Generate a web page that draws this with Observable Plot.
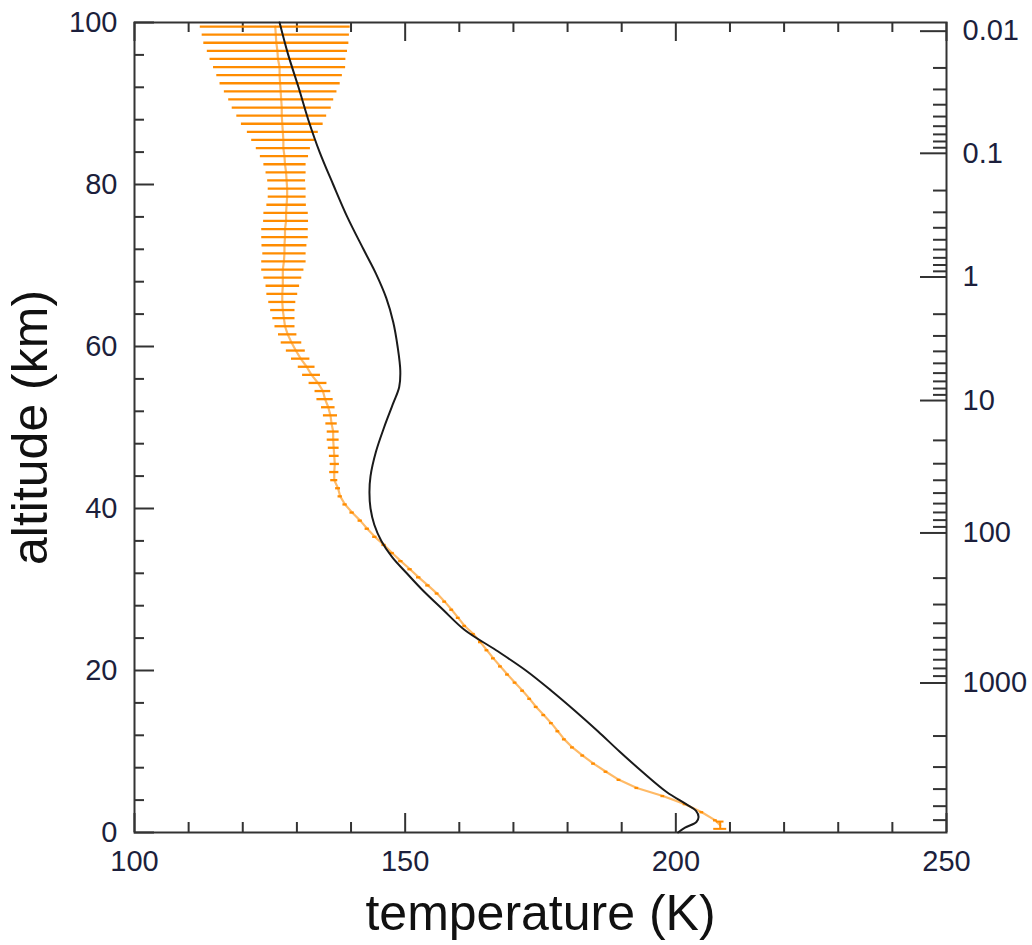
<!DOCTYPE html>
<html>
<head>
<meta charset="utf-8">
<script src="https://cdn.jsdelivr.net/npm/d3@7"></script>
<script src="https://cdn.jsdelivr.net/npm/@observablehq/plot@0.6"></script>
<style>
  body { margin: 0; background: #fff; }
  #chart svg { display: block; }
</style>
</head>
<body>
<div id="chart"></div>
<script>
// Model temperature profile (black curve): altitude (km) and temperature (K)
const modelAlt = [100, 96, 92, 88, 84, 80, 76, 72, 69, 66, 63, 60, 57, 55, 53, 50, 47, 44, 42, 40,
  38, 36, 34, 32, 30, 27.5, 25, 22.5, 20, 17.5, 15, 12.5, 10, 7.5, 5, 3.5, 2.7, 1.9, 1.3, 0.6, 0];
const modelT = [126.8, 128.4, 130.3, 132.1, 134.2, 136.7, 139.3, 142.3, 144.6, 146.5, 147.8, 148.6, 149.1, 148.9, 147.8, 146.1, 144.6, 143.6, 143.4, 143.6,
  144.3, 145.6, 147.6, 150.3, 153.1, 157.0, 161.0, 166.8, 172.3, 177.0, 181.4, 185.6, 189.6, 193.8, 198.3, 201.9, 203.7, 204.2, 203.8, 201.7, 200.4];

// Retrieved profile (orange): one level per km, mean temperature and error half-width
const obsAlt = d3.range(99.5, 1, -1);
const obsT = [
  126.0, 126.1, 126.2, 126.4, 126.5, 126.8, 126.8, 126.9, 127.0, 127.1,
  127.2, 127.2, 127.3, 127.4, 127.5, 127.5, 127.7, 127.8, 128.0, 128.1,
  128.2, 128.2, 128.1, 128.0, 128.0, 127.8, 127.8, 127.7, 127.7, 127.6,
  127.4, 127.4, 127.4, 127.3, 127.3, 127.4, 127.6, 127.8, 128.3, 129.0,
  129.8, 130.7, 131.8, 132.7, 133.9, 134.8, 135.2, 135.8, 136.2, 136.4,
  136.7, 136.7, 136.8, 136.9, 137.0, 136.9, 136.9, 137.6, 138.0, 138.9,
  140.2, 141.7, 143.0, 144.4, 146.1, 147.6, 149.2, 150.9, 152.5, 154.2,
  155.9, 157.3, 158.6, 159.8, 161.0, 162.6, 163.9, 165.1, 166.3, 167.6,
  168.9, 170.3, 171.7, 173.0, 174.2, 175.6, 177.0, 178.2, 179.4, 180.9,
  182.8, 184.8, 187.1, 189.5, 192.8, 197.6, 201.7, 204.8, 207.3];
const obsErr = [
  13.85, 13.6, 13.4, 12.95, 12.55, 12.2, 11.6, 11.1, 10.4, 9.7,
  9.15, 8.3, 7.55, 6.55, 5.85, 5.0, 4.45, 3.9, 3.7, 3.5,
  3.5, 3.5, 3.65, 4.1, 4.15, 4.3, 4.3, 4.15, 4.0, 4.1,
  3.9, 3.5, 3.1, 2.85, 2.5, 2.25, 2.05, 1.85, 1.7, 1.9,
  1.75, 1.7, 1.55, 1.65, 1.65, 1.45, 1.5, 1.25, 1.3, 1.05,
  1.1, 1.1, 1.0, 0.9, 0.85, 0.85, 0.65, 0.45, 0.4, 0.4,
  0.4, 0.4, 0.4, 0.4, 0.4, 0.4, 0.4, 0.4, 0.4, 0.4,
  0.35, 0.35, 0.35, 0.35, 0.35, 0.35, 0.35, 0.35, 0.35, 0.35,
  0.35, 0.35, 0.35, 0.35, 0.35, 0.35, 0.35, 0.35, 0.35, 0.35,
  0.35, 0.35, 0.35, 0.35, 0.35, 0.35, 0.35, 0.35, 0.35];

// Near-surface level with its altitude uncertainty
const surfAlt = [0.9];
const surfT = [208.2];
const surfAltErr = [0.45];

// Axis ticks
const xLabels = [100, 150, 200, 250];
const xMinor = d3.range(110, 250, 10).filter(v => v % 50 !== 0);
const yLabels = [0, 20, 40, 60, 80, 100];
const yMinor = d3.range(4, 100, 4).filter(v => v % 20 !== 0);

// Pressure scale on the right: altitude (km) of each pressure decade
const pressureDecades = [0.01, 0.1, 1, 10, 100, 1000, 10000];
const pressureDecadeAlt = [98.93, 83.85, 68.58, 53.33, 36.98, 18.46, -3.3];
const pressureLabels = ["0.01", "0.1", "1", "10", "100", "1000"];

// Tables built from the arrays above
const model = modelAlt.map((a, i) => ({alt: a, T: modelT[i]}));
const obs = obsAlt.map((a, i) => ({alt: a, T: obsT[i], err: obsErr[i]}));
const surf = surfAlt.map((a, i) => ({alt: a, T: surfT[i], err: surfAltErr[i]}));
const obsLine = obs.concat(surf);

// log-linear position of every pressure tick inside its decade
const pTicks = [];
for (let i = 0; i < pressureDecades.length - 1; i++) {
  for (let m = 1; m <= 9; m++) {
    const alt = pressureDecadeAlt[i] + (pressureDecadeAlt[i + 1] - pressureDecadeAlt[i]) * Math.log10(m);
    if (alt > 0.5 && alt <= 100) pTicks.push({p: m * pressureDecades[i], alt, major: m === 1});
  }
}
const pMajor = pTicks.filter(d => d.major);
const pMinor = pTicks.filter(d => !d.major);
const pLabelRows = pMajor.map((d, i) => ({alt: d.alt, label: pressureLabels[i]}));

const width = 1032, height = 945;
const mt = 22, mr = 86, mb = 113, ml = 134;
const W = width - ml - mr, H = height - mt - mb;

const axisColor = "#333";
const labelColor = "#1c1f3c";
const orange = "#ff8c00";
const font = "Liberation Sans, Arial, Helvetica, sans-serif";

const chart = Plot.plot({
  width, height,
  marginTop: mt, marginRight: mr, marginBottom: mb, marginLeft: ml,
  style: {fontFamily: font, background: "#fff"},
  x: {domain: [100, 250], axis: null},
  y: {domain: [0, 100], axis: null},
  marks: [
    // inward ticks on the bottom and top edges
    Plot.tickX(xLabels, {x: d => d, insetTop: H - 19, stroke: axisColor, strokeWidth: 2}),
    Plot.tickX(xMinor, {x: d => d, insetTop: H - 10, stroke: axisColor, strokeWidth: 2}),
    Plot.tickX(xLabels, {x: d => d, insetBottom: H - 19, stroke: axisColor, strokeWidth: 2}),
    Plot.tickX(xMinor, {x: d => d, insetBottom: H - 10, stroke: axisColor, strokeWidth: 2}),
    // inward ticks on the left edge
    Plot.tickY(yLabels, {y: d => d, insetRight: W - 20, stroke: axisColor, strokeWidth: 2}),
    Plot.tickY(yMinor, {y: d => d, insetRight: W - 10, stroke: axisColor, strokeWidth: 2}),
    // pressure ticks on the right edge
    Plot.tickY(pMajor, {y: "alt", insetLeft: W - 26, stroke: axisColor, strokeWidth: 2}),
    Plot.tickY(pMinor, {y: "alt", insetLeft: W - 13, stroke: axisColor, strokeWidth: 2}),
    Plot.frame({stroke: axisColor, strokeWidth: 2}),

    // retrieved profile with horizontal error bars
    Plot.line(obsLine, {x: "T", y: "alt", stroke: orange, strokeWidth: 2.2, strokeOpacity: 0.6}),
    Plot.ruleY(obs, {y: "alt", x1: d => d.T - d.err, x2: d => d.T + d.err, stroke: orange, strokeWidth: 2.3}),
    // surface point: vertical error bar with caps
    Plot.ruleX(surf, {x: "T", y1: d => d.alt - d.err, y2: d => d.alt + d.err, stroke: orange, strokeWidth: 2}),
    Plot.ruleY(surf, {y: d => d.alt - d.err, x1: d => d.T - 1.2, x2: d => d.T + 1.2, stroke: orange, strokeWidth: 2}),
    Plot.ruleY(surf, {y: d => d.alt + d.err, x1: d => d.T - 0.7, x2: d => d.T + 0.7, stroke: orange, strokeWidth: 2}),

    // model profile
    Plot.line(model, {x: "T", y: "alt", stroke: "#1a1a1a", strokeWidth: 2, curve: "catmull-rom"}),

    // tick labels
    Plot.text(xLabels, {x: d => d, text: d => String(d), frameAnchor: "bottom", dy: 38, fontSize: 29, fill: labelColor}),
    Plot.text(yLabels, {y: d => d, text: d => String(d), frameAnchor: "left", textAnchor: "end", dx: -17, fontSize: 29, fill: labelColor}),
    Plot.text(pLabelRows, {y: "alt", text: "label", frameAnchor: "right", textAnchor: "start", dx: 16, fontSize: 29, fill: labelColor}),

    // axis titles
    Plot.text(["temperature (K)"], {text: d => d, frameAnchor: "bottom", dy: 97, fontSize: 50, fill: "#111"}),
    Plot.text(["altitude (km)"], {text: d => d, frameAnchor: "left", textAnchor: "middle", rotate: -90, dx: -104, fontSize: 50, fill: "#111"})
  ]
});

document.getElementById("chart").appendChild(chart);
</script>
</body>
</html>
